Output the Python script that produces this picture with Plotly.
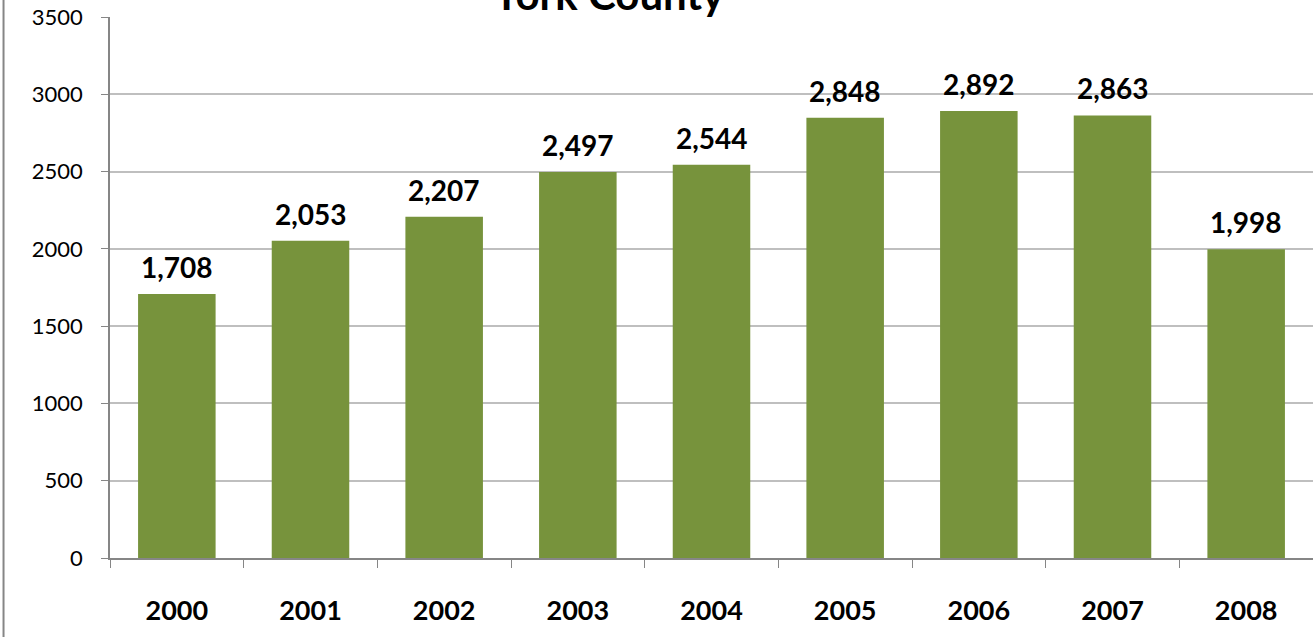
import plotly.graph_objects as go

years = ["2000", "2001", "2002", "2003", "2004", "2005", "2006", "2007", "2008"]
values = [1708, 2053, 2207, 2497, 2544, 2848, 2892, 2863, 1998]
labels = ["1,708", "2,053", "2,207", "2,497", "2,544", "2,848", "2,892", "2,863", "1,998"]
title_text = "York County"

FONT = "Lato"
bar_color = "#77933C"

fig = go.Figure()
fig.add_trace(go.Bar(x=years, y=values, marker=dict(color=bar_color, line=dict(width=0)),
                     width=0.58, hoverinfo="skip"))

for i, (v, lab) in enumerate(zip(values, labels)):
    fig.add_annotation(x=i, y=v, text=f"<b>{lab}</b>", showarrow=False,
                       yanchor="bottom", yshift=8,
                       font=dict(family=FONT, size=28, color="black"))

fig.add_annotation(xref="paper", yref="paper", x=0.414, y=1, text=f"<b>{title_text}</b>",
                   showarrow=False, yanchor="middle", yshift=23,
                   font=dict(family=FONT, size=42, color="black"))

# outer chart border on the left
fig.add_shape(type="line", xref="paper", yref="paper", x0=-0.0885, x1=-0.0885, y0=-0.2, y1=1.1,
              line=dict(color="#868686", width=2))

fig.update_layout(
    width=1313, height=637,
    margin=dict(l=110, r=0, t=17, b=79),
    paper_bgcolor="white", plot_bgcolor="white",
    showlegend=False,
)
fig.update_xaxes(type="category", range=[-0.5, 8.5], showline=True, linecolor="#868686", linewidth=1.5,
                 ticks="outside", tickson="boundaries", ticklen=8, tickcolor="#868686",
                 tickfont=dict(family=FONT, size=27, color="black"), tickangle=0,
                 tickprefix="<b>", ticksuffix="</b>", ticklabelstandoff=28,
                 showgrid=False)
fig.update_yaxes(range=[0, 3500], dtick=500, showline=True, linecolor="#868686", linewidth=1.5,
                 ticks="outside", ticklen=7, tickcolor="#868686",
                 gridcolor="#BFBFBF", gridwidth=1.5, zeroline=False,
                 tickfont=dict(family=FONT, size=22, color="black"),
                 ticklabelstandoff=14)

fig.write_html("out.html", config={"displayModeBar": False},
               post_script="document.body.style.margin='0';document.body.style.overflow='hidden';")
